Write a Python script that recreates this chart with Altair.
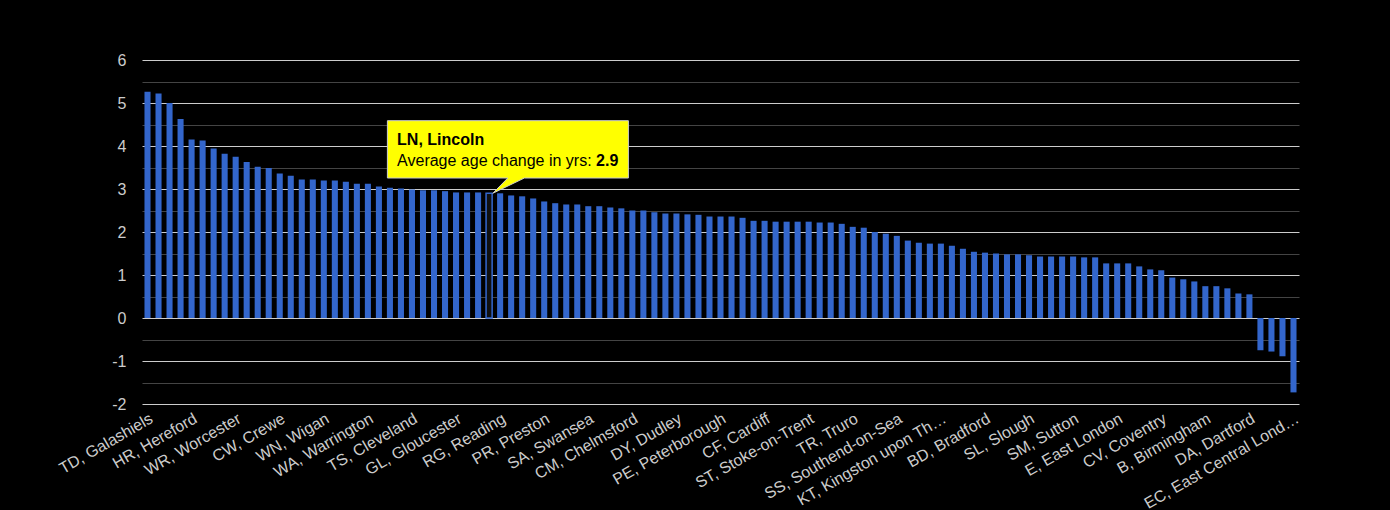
import json
import altair as alt
import pandas as pd

# Average age change (years) per postcode area, sorted from highest to lowest
values = [
    5.26, 5.22, 5.00, 4.63, 4.15, 4.13, 3.94, 3.82, 3.75, 3.63,
    3.52, 3.49, 3.36, 3.31, 3.22, 3.22, 3.20, 3.20, 3.17, 3.12,
    3.12, 3.06, 3.03, 3.01, 2.99, 2.97, 2.97, 2.95, 2.92, 2.92,
    2.92, 2.90, 2.90, 2.85, 2.83, 2.78, 2.71, 2.67, 2.64, 2.64,
    2.60, 2.60, 2.57, 2.55, 2.50, 2.50, 2.46, 2.43, 2.43, 2.41,
    2.40, 2.36, 2.36, 2.36, 2.33, 2.26, 2.26, 2.24, 2.24, 2.24,
    2.24, 2.22, 2.22, 2.19, 2.12, 2.10, 2.00, 1.96, 1.91, 1.80,
    1.75, 1.73, 1.73, 1.68, 1.61, 1.54, 1.52, 1.50, 1.48, 1.48,
    1.46, 1.43, 1.43, 1.43, 1.43, 1.41, 1.41, 1.27, 1.27, 1.27,
    1.20, 1.13, 1.11, 0.94, 0.90, 0.85, 0.74, 0.74, 0.69, 0.57,
    0.55, -0.75, -0.78, -0.89, -1.73,
]

# Areas named along the x axis (every fourth bar)
tick_positions = [0, 4, 8, 12, 16, 20, 24, 28, 32, 36, 40, 44, 48, 52,
                  56, 60, 64, 68, 72, 76, 80, 84, 88, 92, 96, 100, 104]
tick_labels = [
    "TD, Galashiels", "HR, Hereford", "WR, Worcester", "CW, Crewe",
    "WN, Wigan", "WA, Warrington", "TS, Cleveland", "GL, Gloucester",
    "RG, Reading", "PR, Preston", "SA, Swansea", "CM, Chelmsford",
    "DY, Dudley", "PE, Peterborough", "CF, Cardiff", "ST, Stoke-on-Trent",
    "TR, Truro", "SS, Southend-on-Sea", "KT, Kingston upon Th\u2026",
    "BD, Bradford", "SL, Slough", "SM, Sutton", "E, East London",
    "CV, Coventry", "B, Birmingham", "DA, Dartford",
    "EC, East Central Lond\u2026",
]

# Area currently hovered, with its callout
focus_index = 31
focus_name = "LN, Lincoln"
metric_label = "Average age change in yrs: "

y_grid = [-2, -1.5, -1, -0.5, 0, 0.5, 1, 1.5, 2, 2.5, 3, 3.5, 4, 4.5, 5, 5.5, 6]

BAR = "#3366cc"
TEXT = "#cccccc"
FONT = "Liberation Sans"

df = pd.DataFrame({"idx": list(range(len(values))), "value": values})
focus = df[df["idx"] == focus_index].assign(name=focus_name)

label_expr = (
    f"{json.dumps(tick_labels)}[indexof({json.dumps(tick_positions)}, datum.value)]"
)

x = alt.X(
    "idx:O",
    sort=None,
    scale=alt.Scale(paddingInner=0.45, paddingOuter=0.225),
    axis=alt.Axis(
        values=tick_positions,
        labelExpr=label_expr,
        labelAngle=-30,
        labelAlign="right",
        labelBaseline="top",
        labelPadding=6,
        labelFontSize=16,
        labelColor=TEXT,
        labelFont=FONT,
        labelOverlap=False,
        labelLimit=300,
        ticks=False,
        domain=False,
        grid=False,
        title=None,
    ),
)

y = alt.Y(
    "value:Q",
    scale=alt.Scale(domain=[-2, 6], nice=False),
    axis=alt.Axis(
        values=y_grid,
        labelExpr="datum.value % 1 === 0 ? toString(datum.value) : ''",
        gridColor={
            "condition": {"test": "datum.value % 1 === 0", "value": "#cccccc"},
            "value": "#444444",
        },
        gridWidth=1,
        ticks=False,
        domain=False,
        labelPadding=16,
        labelFontSize=16,
        labelColor=TEXT,
        labelFont=FONT,
        title=None,
    ),
)

bars = alt.Chart(df).mark_bar(color=BAR).encode(x=x, y=y)

highlight = alt.Chart(focus).mark_bar(
    fill="#101010", stroke=BAR, strokeWidth=1.5
).encode(x=x, y=y)

# Yellow callout drawn as a symbol whose tip sits on the bar's top edge
callout_path = (
    "M-101.7,-72.6 L139.3,-72.6 L139.3,-15.3 L35.3,-15.3 "
    "L3.7,0 L18.7,-15.3 L-101.7,-15.3 Z"
)
callout = alt.Chart(focus).mark_point(
    shape=callout_path, size=4, filled=True, fill="#ffff00",
    stroke="#cccccc", strokeWidth=1, opacity=1,
).encode(x=x, y=y)

title_text = alt.Chart(focus).mark_text(
    align="left", baseline="alphabetic", dx=-92, dy=-48.3,
    font=FONT, fontSize=16, fontWeight="bold", color="#000000",
).encode(x=x, y=y, text="name:N")

metric_text = alt.Chart(focus).mark_text(
    align="left", baseline="alphabetic", dx=-92, dy=-27.6,
    font=FONT, fontSize=16, color="#000000",
).encode(x=x, y=y, text=alt.value(metric_label))

value_text = alt.Chart(focus).mark_text(
    align="left", baseline="alphabetic", dx=107, dy=-27.6,
    font=FONT, fontSize=16, fontWeight="bold", color="#000000",
).encode(x=x, y=y, text=alt.Text("value:Q", format=".1f"))

chart = (
    alt.layer(bars, highlight, callout, title_text, metric_text, value_text)
    .properties(
        width=1157,
        height=344,
        autosize=alt.AutoSizeParams(type="none"),
        padding={"left": 142, "top": 60, "right": 91, "bottom": 106},
        background="#000000",
    )
    .configure(font=FONT)
    .configure_view(stroke=None)
)

chart.save("out.html", embed_options={"renderer": "svg", "actions": False})
